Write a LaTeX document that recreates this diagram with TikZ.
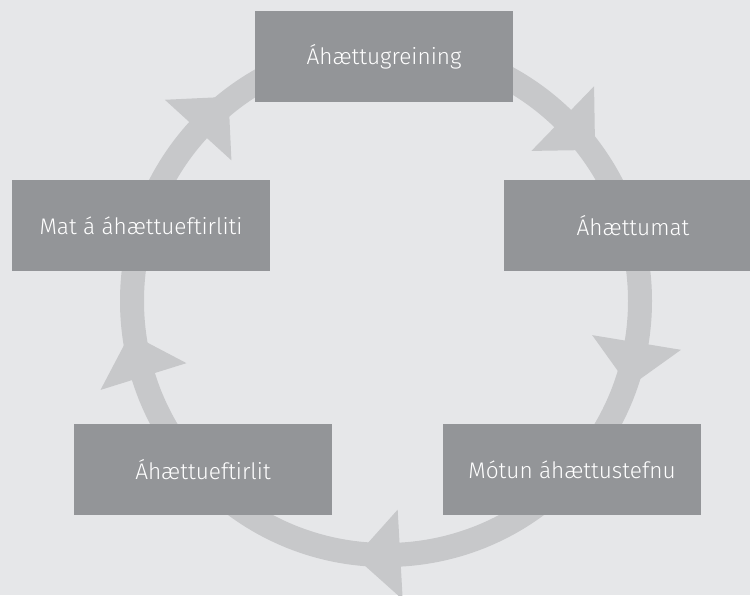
\documentclass[tikz,border=0pt]{standalone}
\usepackage{fontspec}
\setmainfont{Fira Sans}[UprightFont={* Light}]
\usetikzlibrary{calc}
\definecolor{bggray}{HTML}{E6E7E9}
\definecolor{boxgray}{HTML}{939598}
\definecolor{ringgray}{HTML}{C7C8CA}

\begin{document}
\begin{tikzpicture}[x=1pt, y=1pt,
  every node/.style={font=\fontsize{22.6}{27}\selectfont, text=white},
  stage/.style={fill=boxgray, minimum width=258pt, minimum height=91pt, inner sep=0pt}]

\useasboundingbox (0,0) rectangle (750,595);
\clip (0,0) rectangle (750,595);
\fill[bggray] (0,0) rectangle (750,595);

% the cycle
\coordinate (c) at (386,294);
\draw[ringgray, line width=24pt] (c) circle[radius=254pt];
\foreach \a [evaluate=\a as \b using \a-90] in {45.9,-9.4,-86.8,-162.7,137.7}
  \fill[ringgray] ($(c)+(\a:209pt)$) -- ($(c)+(\a:299pt)$) -- ($(c)+(\a:254pt)+(\b:45pt)$) -- cycle;

% the stages
\node (greining) [stage] at (384,538.5) {Áhættugreining};
\node (mat) [stage] at (633,369.5) {Áhættumat};
\node (stefna) [stage] at (572,125.5) {Mótun áhættustefnu};
\node (eftirlit) [stage] at (203,125.5) {Áhættueftirlit};
\node (matefl) [stage] at (141,369.5) {Mat á áhættueftirliti};

\end{tikzpicture}
\end{document}
